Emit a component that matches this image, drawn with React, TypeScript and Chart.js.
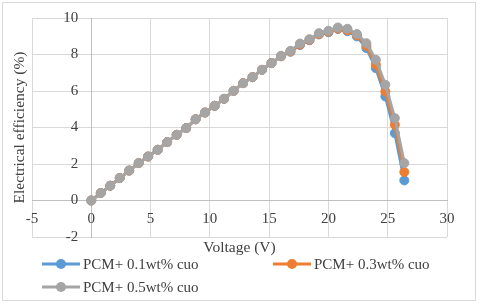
import React, { useEffect, useRef } from "react";
import { Chart, registerables } from "chart.js";

Chart.register(...registerables);

const voltage = [
  0, 0.8, 1.6, 2.4, 3.2, 4.0, 4.8, 5.6, 6.4, 7.2, 8.0, 8.8, 9.6, 10.4, 11.2, 12.0, 12.8,
  13.6, 14.4, 15.2, 16.0, 16.8, 17.6, 18.4, 19.2, 20.0, 20.8, 21.6, 22.4, 23.2, 24.0, 24.8,
  25.6, 26.4,
];
const eff01 = [
  0, 0.41, 0.81, 1.23, 1.64, 2.05, 2.41, 2.78, 3.2, 3.6, 3.97, 4.45, 4.82, 5.19, 5.57, 6.01,
  6.43, 6.76, 7.16, 7.53, 7.9, 8.15, 8.52, 8.78, 9.1, 9.22, 9.4, 9.28, 8.99, 8.35, 7.25, 5.7,
  3.69, 1.1,
];
const eff03 = [
  0, 0.41, 0.81, 1.23, 1.64, 2.05, 2.41, 2.78, 3.2, 3.6, 3.97, 4.45, 4.82, 5.19, 5.57, 6.01,
  6.43, 6.76, 7.16, 7.53, 7.91, 8.17, 8.55, 8.8, 9.12, 9.25, 9.42, 9.33, 9.05, 8.48, 7.44,
  5.97, 4.15, 1.56,
];
const eff05 = [
  0, 0.41, 0.81, 1.23, 1.64, 2.05, 2.41, 2.78, 3.2, 3.6, 3.97, 4.45, 4.82, 5.19, 5.57, 6.01,
  6.43, 6.76, 7.16, 7.53, 7.93, 8.2, 8.6, 8.84, 9.17, 9.3, 9.48, 9.41, 9.12, 8.62, 7.71, 6.34,
  4.51, 2.05,
];
const seriesNames = ["PCM+ 0.1wt% cuo", "PCM+ 0.3wt% cuo", "PCM+ 0.5wt% cuo"];
const seriesColors = ["#5B9BD5", "#ED7D31", "#A5A5A5"];
const xTitle = "Voltage (V)";
const yTitle = "Electrical efficiency (%)";

const FONT = "'Liberation Serif', 'Times New Roman', serif";
const TEXT = "#404040";

export default function App() {
  const ref = useRef<HTMLCanvasElement | null>(null);

  useEffect(() => {
    document.body.style.margin = "0";
    const canvas = ref.current;
    if (!canvas) return;
    const allSeries = [eff01, eff03, eff05];

    const overlay = {
      id: "overlay",
      afterDraw(chart: any) {
        const ctx = chart.ctx as CanvasRenderingContext2D;
        const area = chart.chartArea;
        const xs = chart.scales.x;
        const ys = chart.scales.y;
        ctx.save();
        // outer border
        ctx.strokeStyle = "#d9d9d9";
        ctx.lineWidth = 1;
        ctx.strokeRect(2.5, 2.5, 473, 298);
        // tick labels next to the crossing axes
        ctx.fillStyle = TEXT;
        ctx.font = `15px ${FONT}`;
        ctx.textBaseline = "middle";
        const x0 = xs.getPixelForValue(0);
        const y0 = ys.getPixelForValue(0);
        ctx.textAlign = "right";
        ys.ticks.forEach((t: any) => {
          ctx.fillText(String(t.value), x0 - 13, ys.getPixelForValue(t.value));
        });
        ctx.textAlign = "center";
        xs.ticks.forEach((t: any) => {
          ctx.fillText(String(t.value), xs.getPixelForValue(t.value), y0 + 18.5);
        });
        // axis titles
        ctx.font = `15.5px ${FONT}`;
        ctx.fillText(xTitle, (area.left + area.right) / 2, 248);
        ctx.save();
        ctx.translate(20, (area.top + area.bottom) / 2);
        ctx.rotate(-Math.PI / 2);
        ctx.fillText(yTitle, 0, 0);
        ctx.restore();
        // legend
        const items = [
          { x: 42, y: 264 },
          { x: 273, y: 264 },
          { x: 42, y: 287 },
        ];
        ctx.font = `15px ${FONT}`;
        ctx.textAlign = "left";
        items.forEach((it, i) => {
          ctx.strokeStyle = seriesColors[i];
          ctx.fillStyle = seriesColors[i];
          ctx.lineWidth = 3;
          ctx.beginPath();
          ctx.moveTo(it.x, it.y);
          ctx.lineTo(it.x + 38, it.y);
          ctx.stroke();
          ctx.beginPath();
          ctx.arc(it.x + 19, it.y, 5, 0, Math.PI * 2);
          ctx.fill();
          ctx.fillStyle = TEXT;
          ctx.fillText(seriesNames[i], it.x + 41, it.y + 1);
        });
        ctx.restore();
      },
    };

    const chart = new Chart(canvas, {
      type: "line",
      data: {
        datasets: allSeries.map((s, i) => ({
          label: seriesNames[i],
          data: voltage.map((v, j) => ({ x: v, y: s[j] })),
          borderColor: seriesColors[i],
          backgroundColor: seriesColors[i],
          pointBackgroundColor: seriesColors[i],
          pointBorderColor: seriesColors[i],
          borderWidth: 3,
          pointRadius: 4.5,
          pointBorderWidth: 1,
          tension: 0,
          order: 3 - i,
        })),
      },
      options: {
        responsive: false,
        animation: false,
        layout: { padding: { left: 32, top: 18, right: 33, bottom: 68 } },
        plugins: { legend: { display: false }, tooltip: { enabled: false } },
        scales: {
          x: {
            type: "linear",
            min: -5,
            max: 30,
            position: { y: 0 } as any,
            ticks: { stepSize: 5, display: false },
            grid: { color: "#d9d9d9", drawTicks: false },
            border: { color: "#bfbfbf" },
          },
          y: {
            type: "linear",
            min: -2,
            max: 10,
            position: { x: 0 } as any,
            ticks: { stepSize: 2, display: false },
            grid: { color: "#d9d9d9", drawTicks: false },
            border: { color: "#bfbfbf" },
          },
        },
      },
      plugins: [overlay],
    });
    return () => chart.destroy();
  }, []);

  return <canvas ref={ref} width={480} height={305} style={{ display: "block" }} />;
}
